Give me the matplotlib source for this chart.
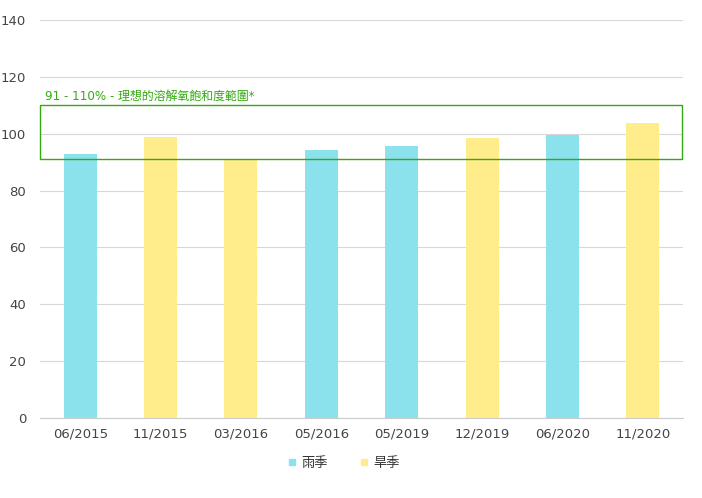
import matplotlib
matplotlib.use('Agg')
import matplotlib.pyplot as plt
from matplotlib.patches import Rectangle
from matplotlib.lines import Line2D

plt.rcParams['font.family'] = ['DejaVu Sans', 'Noto Sans CJK TC']

dates = ['06/2015', '11/2015', '03/2016', '05/2016', '05/2019', '12/2019', '06/2020', '11/2020']
wet = [93, None, None, 94.3, 95.7, None, 99.7, None]
dry = [0, 98.8, 91, None, None, 98.5, None, 103.8]
range_low = 91
range_high = 110

wet_color = '#8be1ec'
dry_color = '#feed8a'
box_color = '#33aa11'

fig = plt.figure(figsize=(7.02, 4.98), dpi=100)
ax = fig.add_axes([0.057, 0.1606, 0.916, 0.7992])

x = list(range(len(dates)))
w = 0.41
for i in x:
    if wet[i] is not None:
        ax.bar(i, wet[i], width=w, color=wet_color, zorder=2)
    if dry[i] is not None:
        ax.bar(i, dry[i], width=w, color=dry_color, zorder=2,
               edgecolor=dry_color if dry[i] == 0 else 'none', linewidth=1)

ax.add_patch(Rectangle((-0.5, range_low), len(dates) - 0.01, range_high - range_low,
                       fill=False, edgecolor=box_color, linewidth=1, zorder=3, clip_on=False))
ax.text(-0.44, range_high + 0.8, '91 - 110% - 理想的溶解氧飽和度範圍*',
        color=box_color, fontsize=8.6, va='bottom', ha='left')

ax.set_xlim(-0.5, len(dates) - 0.5)
ax.set_ylim(0, 140)
ax.set_yticks(range(0, 141, 20))
ax.set_xticks(x)
ax.set_xticklabels(dates)
ax.yaxis.grid(True, color='#d8d8d8', linewidth=0.8, zorder=0)
ax.set_axisbelow(True)
for s in ['top', 'right', 'left']:
    ax.spines[s].set_visible(False)
ax.spines['bottom'].set_color('#cccccc')
ax.tick_params(axis='both', length=0, labelsize=9.5, colors='#444444')
ax.tick_params(axis='x', pad=7)
ax.tick_params(axis='y', pad=10)

handles = [Line2D([], [], marker='s', linestyle='none', color=wet_color, markersize=5),
           Line2D([], [], marker='s', linestyle='none', color=dry_color, markersize=5)]
fig.legend(handles, ['雨季', '旱季'], loc='center', bbox_to_anchor=(0.488, 0.07),
           ncol=2, frameon=False, fontsize=9.5, handlelength=1.0, handletextpad=0.15,
           columnspacing=2.3, labelcolor='#333333')

fig.savefig('out.png', dpi=100)
